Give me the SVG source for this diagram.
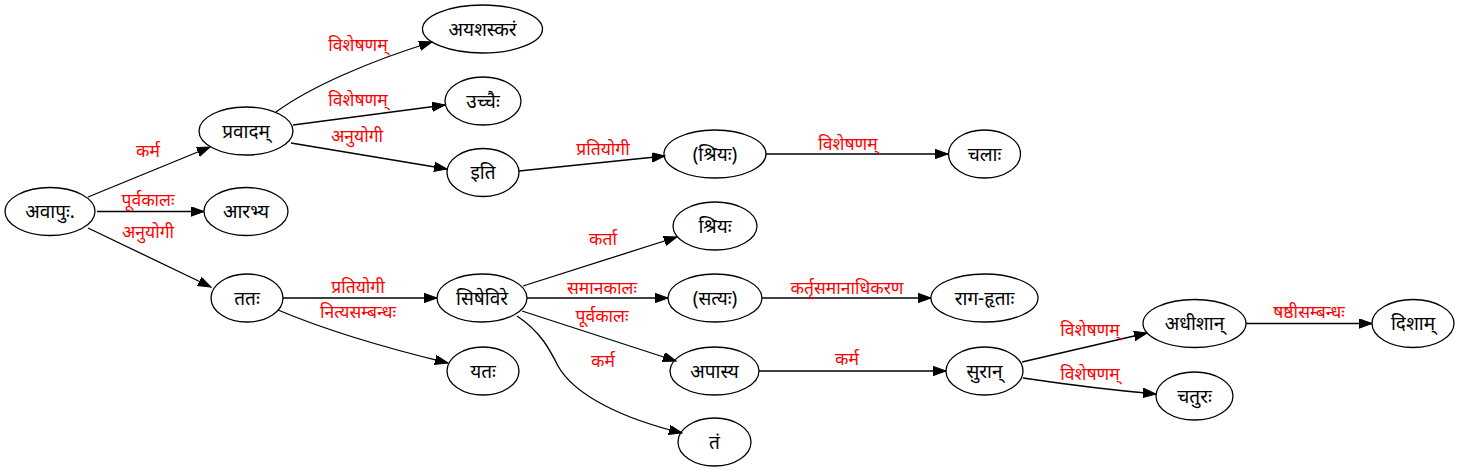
<svg xmlns="http://www.w3.org/2000/svg" width="1459" height="472" viewBox="0 0 1459 472">
<style>
.n ellipse{fill:none;stroke:#000;stroke-width:1.3}
.n text{font-family:"Noto Sans","Noto Sans Devanagari","Lohit Devanagari","DejaVu Sans",sans-serif;font-size:19px;fill:#000;text-anchor:middle}
.e path{fill:none;stroke:#000;stroke-width:1.3;marker-end:url(#ah)}
.e text{font-family:"Noto Sans","Noto Sans Devanagari","Lohit Devanagari","DejaVu Sans",sans-serif;font-size:17.5px;fill:#ff0000;text-anchor:middle}
</style>
<defs>
<marker id="ah" markerUnits="userSpaceOnUse" markerWidth="14" markerHeight="10" refX="13" refY="4.7" orient="auto" viewBox="0 0 14 10">
<path d="M0,0 L13,4.7 L0,9.4 z" fill="#000" stroke="#000" stroke-width="1"/>
</marker>
</defs>
<rect width="1459" height="472" fill="#fff"/>
<g id="edges" class="e">
<path d="M88,197 L210,147"/><text x="148" y="157">कर्म</text>
<path d="M97,211.5 L204,211.5"/><text x="148" y="206">पूर्वकालः</text>
<path d="M88,228 L211,287"/><text x="148" y="238">अनुयोगी</text>
<path d="M276,112 C310,87 370,61 432,42"/><text x="358" y="51">विशेषणम्</text>
<path d="M293,125 L445,105"/><text x="358" y="106">विशेषणम्</text>
<path d="M291,143 L447,169"/><text x="357" y="142">अनुयोगी</text>
<path d="M519,171 L665,156"/><text x="603" y="155">प्रतियोगी</text>
<path d="M766,154 L948,154"/><text x="848" y="150">विशेषणम्</text>
<path d="M283,298 L437,298"/><text x="358" y="293">प्रतियोगी</text>
<path d="M278,310 C330,332 390,349 448,363"/><text x="358" y="318">नित्यसम्बन्धः</text>
<path d="M523,286 L677,237"/><text x="603" y="245">कर्ता</text>
<path d="M527,298 L668,298"/><text x="602" y="294">समानकालः</text>
<path d="M522,311 L676,361"/><text x="602" y="322">पूर्वकालः</text>
<path d="M517,316 C541,332 550,350 558,366 C575,396 624,419 682,433"/><text x="603" y="367">कर्म</text>
<path d="M762,298 L931,298"/><text x="847" y="294">कर्तृसमानाधिकरण</text>
<path d="M759,371 L946,371"/><text x="847" y="365">कर्म</text>
<path d="M1022,362 L1147,333"/><text x="1090" y="336">विशेषणम्</text>
<path d="M1023,378 C1070,385 1110,390 1156,394"/><text x="1090" y="380">विशेषणम्</text>
<path d="M1246,323.5 L1372,323.5"/><text x="1309" y="318">षष्ठीसम्बन्धः</text>
</g>
<g id="n_avapuh" class="n"><ellipse cx="50" cy="211.5" rx="45" ry="24"/><text x="50" y="218">अवापुः.</text></g>
<g id="n_pravadam" class="n"><ellipse cx="246" cy="131" rx="47" ry="24"/><text x="246" y="137.5">प्रवादम्</text></g>
<g id="n_arabhya" class="n"><ellipse cx="246" cy="211.5" rx="42" ry="24"/><text x="246" y="218">आरभ्य</text></g>
<g id="n_tatah" class="n"><ellipse cx="247" cy="298" rx="36" ry="24"/><text x="247" y="304.5">ततः</text></g>
<g id="n_ayashaskaram" class="n"><ellipse cx="482.5" cy="29" rx="60" ry="24"/><text x="482.5" y="35.5">अयशस्करं</text></g>
<g id="n_uchchaih" class="n"><ellipse cx="483" cy="101" rx="38" ry="24"/><text x="483" y="107.5">उच्चैः</text></g>
<g id="n_iti" class="n"><ellipse cx="483" cy="172.5" rx="36" ry="24"/><text x="483" y="179">इति</text></g>
<g id="n_sishevire" class="n"><ellipse cx="482" cy="298" rx="45" ry="24"/><text x="482" y="304.5">सिषेविरे</text></g>
<g id="n_yatah" class="n"><ellipse cx="483" cy="371" rx="36" ry="24"/><text x="483" y="377.5">यतः</text></g>
<g id="n_shriyah_p" class="n"><ellipse cx="715" cy="154" rx="51" ry="24"/><text x="715" y="160.5">(श्रियः)</text></g>
<g id="n_shriyah" class="n"><ellipse cx="715" cy="226" rx="42" ry="24"/><text x="715" y="232.5">श्रियः</text></g>
<g id="n_satyah" class="n"><ellipse cx="715" cy="298" rx="47" ry="24"/><text x="715" y="304.5">(सत्यः)</text></g>
<g id="n_apasya" class="n"><ellipse cx="714.5" cy="371" rx="44.5" ry="24"/><text x="714.5" y="377.5">अपास्य</text></g>
<g id="n_tam" class="n"><ellipse cx="714.5" cy="442" rx="36.5" ry="24"/><text x="714.5" y="448.5">तं</text></g>
<g id="n_chalah" class="n"><ellipse cx="984.5" cy="154" rx="36" ry="24"/><text x="984.5" y="160.5">चलाः</text></g>
<g id="n_ragahritah" class="n"><ellipse cx="984.5" cy="298" rx="53.5" ry="24"/><text x="984.5" y="304.5">राग-हृताः</text></g>
<g id="n_suran" class="n"><ellipse cx="984.5" cy="371" rx="38.5" ry="24"/><text x="984.5" y="377.5">सुरान्</text></g>
<g id="n_adhishan" class="n"><ellipse cx="1194.5" cy="323.5" rx="51.5" ry="24"/><text x="1194.5" y="330">अधीशान्</text></g>
<g id="n_chaturah" class="n"><ellipse cx="1194.5" cy="396" rx="38.5" ry="24"/><text x="1194.5" y="402.5">चतुरः</text></g>
<g id="n_disham" class="n"><ellipse cx="1413" cy="323.5" rx="41" ry="24"/><text x="1413" y="330">दिशाम्</text></g>
</svg>
